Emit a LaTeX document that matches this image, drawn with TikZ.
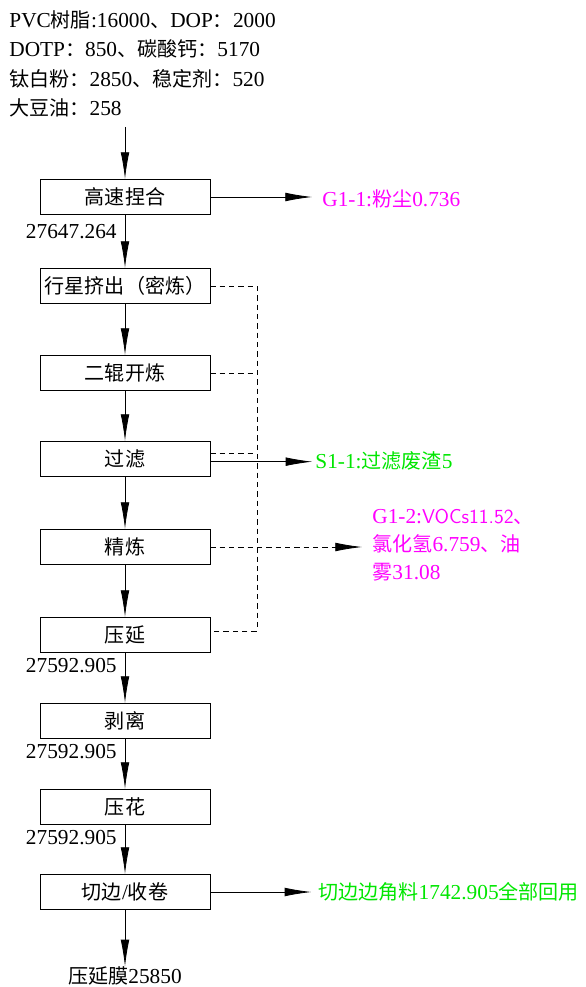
\documentclass[tikz,border=0pt]{standalone}
\usepackage{fontspec}
\setmainfont{Liberation Serif}
\newfontfamily\cjk[Scale=0.94]{Noto Sans CJK SC}
\usetikzlibrary{arrows.meta}
\definecolor{gasmag}{RGB}{255,0,255}
\definecolor{solidgrn}{RGB}{0,230,0}
\newcommand\zh[1]{{\cjk #1}}
\tikzset{
  procbox/.style = {rectangle, draw=black, inner sep=0pt,
    minimum width=127.5pt, minimum height=26.5pt},% process step
  flowlbl/.style = {inner sep=0pt},
  gasout/.style = {flowlbl, gasmag, align=left, anchor=west},% waste gas
  wasteout/.style = {flowlbl, solidgrn, anchor=west},% solid waste
  massnum/.style = {flowlbl, anchor=east},% mass balance number
  dashln/.style = {dash pattern=on 4pt off 3pt}
}

\begin{document}
\begin{tikzpicture}[x=0.75pt, y=-0.75pt, line width=0.6pt,
  >={Latex[length=20pt, width=6.5pt]},
  font=\fontsize{16}{20}\selectfont]
\useasboundingbox (0,0) rectangle (585,987);
% raw materials
\node [flowlbl, align=left, anchor=west,
  font=\fontsize{16}{22}\selectfont] (feed) at (9,64)
  {PVC\zh{树脂}:16000\zh{、}DOP\zh{：}2000\\
   DOTP\zh{：}850\zh{、碳酸钙：}5170\\
   \zh{钛白粉：}2850\zh{、稳定剂：}520\\
   \zh{大豆油：}258};
\coordinate (fin) at (125,127);
% process chain
\node [procbox] (hs) at (125,197) {\zh{高速捏合}};
\node [procbox] (xx) at (125,286) {\zh{行星挤出（密炼）}};
\node [procbox] (ek) at (125,373) {\zh{二辊开炼}};
\node [procbox] (gl) at (125,459) {\zh{过滤}};
\node [procbox] (jl) at (125,547) {\zh{精炼}};
\node [procbox] (yy) at (125,635) {\zh{压延}};
\node [procbox] (bl) at (125,721) {\zh{剥离}};
\node [procbox] (yh) at (125,807) {\zh{压花}};
\node [procbox] (qb) at (125,892) {\zh{切边}/\zh{收卷}};
\node [flowlbl] (film) at (125,976) {\zh{压延膜}25850};
% mass numbers
\node [massnum] (m1) at (117,232) {27647.264};
\node [massnum] (m2) at (117,666) {27592.905};
\node [massnum] (m3) at (117,752) {27592.905};
\node [massnum] (m4) at (117,838) {27592.905};
% outputs
\node [gasout] (g11) at (322,199) {G1-1:\zh{粉尘}0.736};
\node [wasteout] (s11) at (315,461) {S1-1:\zh{过滤废渣}5};
\node [gasout, font=\fontsize{16}{21}\selectfont] (g12) at (372,545)
  {G1-2:{\sffamily\fontsize{15}{21}\selectfont VOCs11.52}\zh{、}\\
   \zh{氯化氢}6.759\zh{、油}\\ \zh{雾}31.08};
\node [wasteout] (bj) at (318,892) {\zh{切边边角料}1742.905\zh{全部回用}};
\coordinate (dv) at (257,0);

\draw [->] (fin) -- (hs.north);
\foreach \a/\b in {hs/xx, xx/ek, ek/gl, gl/jl, jl/yy, yy/bl, bl/yh, yh/qb, qb/film}
  \draw [->] (\a) -- (\b);
\draw [->, shorten >=7.5pt] (hs.east) -- (hs.east -| g11.west);
\draw [->, shorten >=2pt] ([yshift=-2pt]gl.east) -- ([yshift=-2pt]gl.east -| s11.west);
\draw [->, shorten >=5pt] (qb.east) -- (qb.east -| bj.west);
% dashed collector
\draw [dashln] (xx.east) -- (xx.east -| dv) -- ([yshift=3pt]yy.east -| dv)
  -- ([yshift=3pt]yy.east);
\draw [dashln] (ek.east) -- (ek.east -| dv);
\draw [dashln] ([yshift=4.5pt]gl.east) -- ([yshift=4.5pt]gl.east -| dv);
\draw [dashln, ->, shorten >=7.5pt] (jl.east) -- (jl.east -| g12.west);
\end{tikzpicture}
\end{document}
